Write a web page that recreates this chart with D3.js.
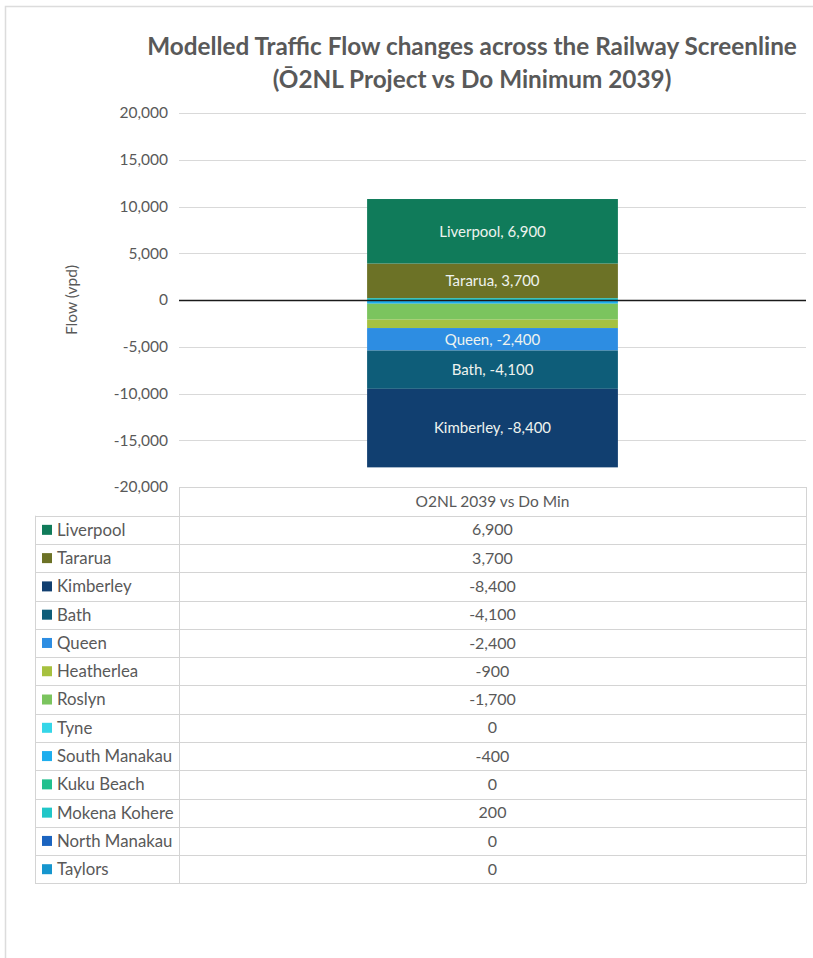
<!DOCTYPE html>
<html>
<head>
<meta charset="utf-8">
<script src="https://cdn.jsdelivr.net/npm/d3@7"></script>
<style>
  html, body { margin: 0; padding: 0; background: #ffffff; }
  svg { display: block; font-family: Lato, "Open Sans", sans-serif; }
</style>
</head>
<body>
<svg id="chart" width="813" height="958"></svg>
<script>
// ---------- DATA ----------
const titleLines = ["Modelled Traffic Flow changes across the Railway Screenline", "(\u014C2NL Project vs Do Minimum 2039)"];
const category = ["O2NL 2039 vs Do Min"];
const seriesNames = ["Liverpool", "Tararua", "Kimberley", "Bath", "Queen", "Heatherlea", "Roslyn", "Tyne", "South Manakau", "Kuku Beach", "Mokena Kohere", "North Manakau", "Taylors"];
const seriesValues = [6900, 3700, -8400, -4100, -2400, -900, -1700, 0, -400, 0, 200, 0, 0];
const seriesColors = ["#107b5a", "#6c7226", "#113f70", "#0e5d79", "#2d8de2", "#a6c13f", "#7bc45e", "#35d6e8", "#1eaeee", "#22c08e", "#20c6c8", "#1b64c0", "#1696ce"];
const labelledSeries = ["Liverpool", "Tararua", "Queen", "Bath", "Kimberley"];
const yTicks = [-20000, -15000, -10000, -5000, 0, 5000, 10000, 15000, 20000];
const yAxisTitle = "Flow (vpd)";

// ---------- LAYOUT ----------
const svg = d3.select("#chart");
const plotLeft = 179, plotRight = 806, plotTop = 113, plotBottom = 487;
const tableLeft = 35, headerTop = 487, rowTop = 515.7, rowH = 28.28;
const textGray = "#595959", gridGray = "#d9d9d9", tableLine = "#d4d4d4";
const fmt = d3.formatLocale({ decimal: ".", thousands: ",", grouping: [3], currency: ["", ""], minus: "-" }).format(",");

// outer chart border
svg.append("rect").attr("x", 5.5).attr("y", 6.5).attr("width", 830).attr("height", 980)
  .attr("fill", "none").attr("stroke", "#dcdcdc").attr("stroke-width", 1.5);

// title
svg.append("g").selectAll("text").data(titleLines).join("text")
  .attr("x", 472).attr("y", (d, i) => 55 + i * 33)
  .attr("text-anchor", "middle").attr("font-size", 24.3).attr("font-weight", "bold")
  .attr("fill", textGray).text(d => d);

// scales
const y = d3.scaleLinear().domain([-20000, 20000]).range([plotBottom, plotTop]);
const x = d3.scaleBand().domain(category).range([plotLeft, plotRight]).paddingInner(0).paddingOuter(0.75);

// gridlines (not the bottom -20000, which is the table border)
svg.append("g").selectAll("line").data(yTicks.filter(t => t !== 0 && t !== -20000)).join("line")
  .attr("x1", plotLeft).attr("x2", plotRight)
  .attr("y1", d => Math.round(y(d)) + 0.5).attr("y2", d => Math.round(y(d)) + 0.5)
  .attr("stroke", gridGray).attr("stroke-width", 1);

// y axis labels
const yAxis = d3.axisLeft(y).tickValues(yTicks).tickFormat(fmt).tickSize(0).tickPadding(0);
const gy = svg.append("g").attr("transform", `translate(168,0)`).call(yAxis);
gy.select(".domain").remove();
gy.selectAll("text").attr("font-size", 15.5).attr("fill", textGray).attr("font-family", "Lato, sans-serif");

// axis title
svg.append("text").attr("transform", `translate(77,${y(0)}) rotate(-90)`)
  .attr("text-anchor", "middle").attr("font-size", 15.5).attr("fill", textGray).text(yAxisTitle);

// stacked bar data
const row = { cat: category[0] };
seriesNames.forEach((n, i) => row[n] = seriesValues[i]);
const stackKeys = seriesNames.slice().reverse();
const stacked = d3.stack().keys(stackKeys).offset(d3.stackOffsetDiverging)([row]);
const color = d3.scaleOrdinal().domain(seriesNames).range(seriesColors);

const barG = svg.append("g");
stacked.forEach(s => {
  const d = s[0];
  barG.append("rect")
    .attr("x", x(d.data.cat)).attr("width", x.bandwidth())
    .attr("y", y(Math.max(d[0], d[1])))
    .attr("height", Math.abs(y(d[0]) - y(d[1])))
    .attr("fill", color(s.key));
});

// zero line
svg.append("line").attr("x1", plotLeft).attr("x2", plotRight)
  .attr("y1", y(0) + 0.5).attr("y2", y(0) + 0.5).attr("stroke", "#1a1a1a").attr("stroke-width", 1.5);

// bar labels
stacked.filter(s => labelledSeries.includes(s.key)).forEach(s => {
  const d = s[0];
  svg.append("text")
    .attr("x", x(d.data.cat) + x.bandwidth() / 2)
    .attr("y", y((d[0] + d[1]) / 2)).attr("dy", "0.35em")
    .attr("text-anchor", "middle").attr("font-size", 15).attr("fill", "#eef3ef")
    .text(`${s.key}, ${fmt(d.data[s.key])}`);
});

// ---------- DATA TABLE ----------
const tableBottom = rowTop + rowH * seriesNames.length;
const tg = svg.append("g");
tg.append("line").attr("x1", plotLeft).attr("x2", plotRight).attr("y1", headerTop + 0.5).attr("y2", headerTop + 0.5)
  .attr("stroke", tableLine);
d3.range(seriesNames.length + 1).forEach(i => {
  const yy = Math.round(rowTop + i * rowH) + 0.5;
  tg.append("line").attr("x1", tableLeft).attr("x2", plotRight).attr("y1", yy).attr("y2", yy).attr("stroke", tableLine);
});
tg.append("line").attr("x1", tableLeft + 0.5).attr("x2", tableLeft + 0.5).attr("y1", rowTop).attr("y2", tableBottom).attr("stroke", tableLine);
tg.append("line").attr("x1", plotLeft + 0.5).attr("x2", plotLeft + 0.5).attr("y1", headerTop).attr("y2", tableBottom).attr("stroke", tableLine);
tg.append("line").attr("x1", plotRight + 0.5).attr("x2", plotRight + 0.5).attr("y1", headerTop).attr("y2", tableBottom).attr("stroke", tableLine);

tg.append("text").attr("x", (plotLeft + plotRight) / 2).attr("y", (headerTop + rowTop) / 2).attr("dy", "0.35em")
  .attr("text-anchor", "middle").attr("font-size", 15.5).attr("fill", textGray).text(category[0]);

const rows = tg.selectAll("g.row").data(seriesNames).join("g").attr("class", "row")
  .attr("transform", (d, i) => `translate(0,${rowTop + i * rowH + rowH / 2})`);
rows.append("rect").attr("x", 42).attr("y", -5).attr("width", 10).attr("height", 10).attr("fill", d => color(d));
rows.append("text").attr("x", 57).attr("dy", "0.35em").attr("font-size", 16.8).attr("fill", textGray).text(d => d);
rows.append("text").attr("x", (plotLeft + plotRight) / 2).attr("dy", "0.35em").attr("text-anchor", "middle")
  .attr("font-size", 16).attr("fill", textGray).text((d, i) => fmt(seriesValues[i]));
</script>
</body>
</html>
